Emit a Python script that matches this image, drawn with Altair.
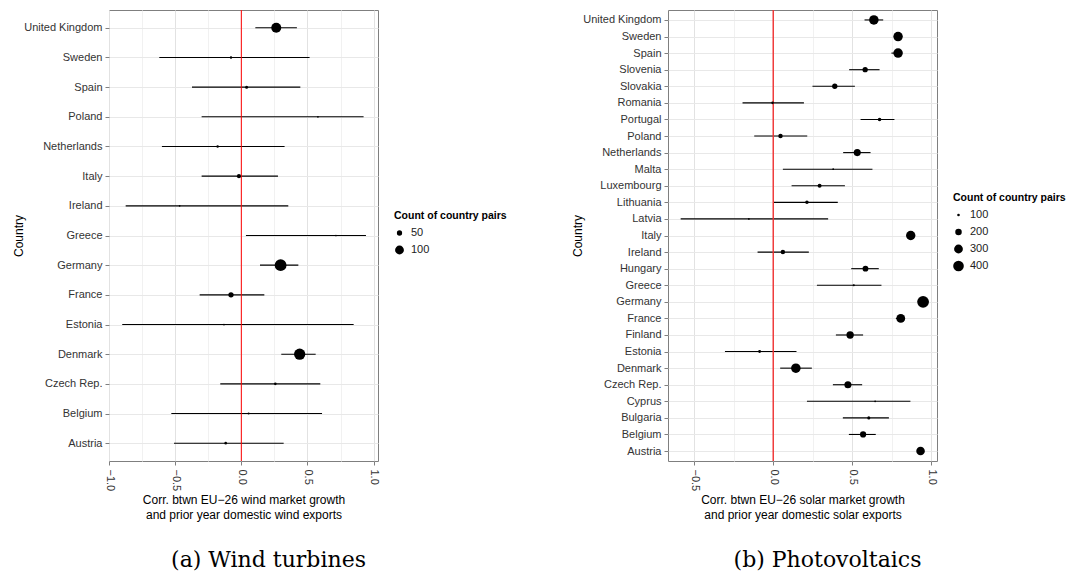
import altair as alt
import pandas as pd

# ---------------- data ----------------
wind_countries = ["United Kingdom", "Sweden", "Spain", "Poland", "Netherlands", "Italy",
                  "Ireland", "Greece", "Germany", "France", "Estonia", "Denmark",
                  "Czech Rep.", "Belgium", "Austria"]
wind_corr = [0.264, -0.078, 0.040, 0.579, -0.179, -0.018, -0.466, 0.715, 0.297, -0.078,
             -0.131, 0.441, 0.257, 0.055, -0.118]
wind_lo = [0.106, -0.620, -0.373, -0.300, -0.600, -0.300, -0.874, 0.035, 0.141, -0.315,
           -0.900, 0.302, -0.159, -0.529, -0.509]
wind_hi = [0.420, 0.516, 0.446, 0.924, 0.327, 0.277, 0.355, 0.942, 0.431, 0.174,
           0.849, 0.562, 0.597, 0.610, 0.320]
wind_pairs = [122, 28, 31, 25, 28, 39, 25, 25, 161, 50, 25, 149, 29, 26, 29]

solar_countries = ["United Kingdom", "Sweden", "Spain", "Slovenia", "Slovakia", "Romania",
                   "Portugal", "Poland", "Netherlands", "Malta", "Luxembourg", "Lithuania",
                   "Latvia", "Italy", "Ireland", "Hungary", "Greece", "Germany", "France",
                   "Finland", "Estonia", "Denmark", "Czech Rep.", "Cyprus", "Bulgaria",
                   "Belgium", "Austria"]
solar_corr = [0.636, 0.789, 0.789, 0.581, 0.389, -0.004, 0.672, 0.046, 0.531, 0.379, 0.293,
              0.213, -0.154, 0.869, 0.061, 0.583, 0.509, 0.947, 0.806, 0.486, -0.086, 0.143,
              0.472, 0.644, 0.604, 0.568, 0.931]
solar_lo = [0.577, 0.765, 0.747, 0.480, 0.248, -0.194, 0.552, -0.120, 0.442, 0.061, 0.116,
            0.004, -0.585, 0.850, -0.099, 0.493, 0.276, 0.930, 0.775, 0.396, -0.305, 0.044,
            0.377, 0.213, 0.440, 0.478, 0.915]
solar_hi = [0.695, 0.812, 0.815, 0.672, 0.516, 0.194, 0.766, 0.215, 0.615, 0.627, 0.453,
            0.408, 0.347, 0.885, 0.225, 0.667, 0.684, 0.962, 0.830, 0.568, 0.147, 0.244,
            0.562, 0.867, 0.731, 0.648, 0.945]
solar_pairs = [335, 335, 335, 160, 160, 100, 116, 136, 222, 89, 125, 116, 89, 330, 136, 174,
               94, 474, 302, 233, 104, 335, 222, 89, 107, 189, 290]

wind_ticks = [-1.0, -0.75, -0.5, -0.25, 0.0, 0.25, 0.5, 0.75, 1.0]
solar_ticks = [-0.5, -0.25, 0.0, 0.25, 0.5, 0.75, 1.0]
wind_legend = [50, 100]
solar_legend = [100, 200, 300, 400]

FONT = "Liberation Sans"
W, H = 269, 451


def panel(countries, corr, lo, hi, pairs, xdom, xticks, xtitle, size_dom, size_rng,
          legend_vals, legend_y, caption, zero_color, zero_w):
    df = pd.DataFrame({"country": countries, "corr": corr, "lo": lo, "hi": hi,
                       "pairs": pairs})
    minor = "datum.value % 0.5 !== 0"
    x_axis = alt.Axis(
        values=xticks,
        labelExpr="datum.value % 0.5 === 0 ? format(datum.value, '.1f') : ''",
        labelAngle=90, labelFontSize=11, labelColor="#333333", labelFont=FONT,
        labelPadding=4, tickSize=4,
        tickColor={"condition": {"test": minor, "value": "rgba(0,0,0,0)"}, "value": "#7f7f7f"},
        gridColor={"condition": {"test": minor, "value": "#f1f1f1"}, "value": "#e2e2e2"},
        domain=False, title=xtitle, titleFont=FONT, titleFontSize=12,
        titleFontWeight="normal", titleColor="black", titlePadding=4, titleLineHeight=15,
    )
    xscale = alt.Scale(domain=xdom, nice=False, zero=False)
    y_axis = alt.Axis(
        labelFontSize=11, labelColor="#333333", labelFont=FONT, labelPadding=3,
        tickSize=4, tickColor="#7f7f7f", domain=False, grid=True, gridColor="#e8e8e8",
        minExtent=83, maxExtent=83,
        title="Country", titleFont=FONT, titleFontSize=12, titleFontWeight="normal",
        titleColor="black", titlePadding=1,
    )
    yenc = alt.Y("country:N", sort=countries,
                 scale=alt.Scale(type="point", padding=0.6), axis=y_axis)

    bars = alt.Chart(df).mark_rule(color="black", strokeWidth=1.1).encode(
        x=alt.X("lo:Q", scale=xscale, axis=x_axis), x2="hi:Q", y=yenc)
    dots = alt.Chart(df).mark_circle(color="black", opacity=1).encode(
        x=alt.X("corr:Q", scale=xscale, axis=x_axis), y=yenc,
        size=alt.Size("pairs:Q",
                      scale=alt.Scale(domain=size_dom, range=size_rng, zero=False),
                      legend=alt.Legend(
                          title="Count of country pairs", orient="none",
                          legendX=W + 16, legendY=legend_y, values=legend_vals,
                          titleFont=FONT, titleFontSize=10.5, titleFontWeight="bold",
                          titleColor="black", labelFont=FONT, labelFontSize=11,
                          labelColor="#222222", symbolFillColor="black",
                          symbolStrokeWidth=0, rowPadding=5, labelOffset=6,
                          titlePadding=6, padding=0)))
    zero = alt.Chart(pd.DataFrame({"z": [0.0]})).mark_rule(
        color=zero_color, strokeWidth=zero_w).encode(
        x=alt.X("z:Q", scale=xscale, axis=x_axis))

    return alt.layer(bars, zero, dots).properties(
        width=W, height=H,
        title=alt.TitleParams(text=caption, orient="bottom", anchor="middle",
                              frame="group", dx=25, offset=29, font="DejaVu Serif",
                              fontSize=22, fontWeight="normal", color="black"))


left = panel(wind_countries, wind_corr, wind_lo, wind_hi, wind_pairs, [-1.0, 1.033],
             wind_ticks,
             ["Corr. btwn EU\u221226 wind market growth",
              "and prior year domestic wind exports"],
             [22, 180], [0, 158], wind_legend, 201, "(a) Wind turbines", "#ff0000", 1)
right = panel(solar_countries, solar_corr, solar_lo, solar_hi, solar_pairs, [-0.665, 1.035],
              solar_ticks,
              ["Corr. btwn EU\u221226 solar market growth",
               "and prior year domestic solar exports"],
              [80, 480], [0, 141], solar_legend, 183, "(b) Photovoltaics", "#f03030", 1.4)

chart = alt.hconcat(left, right, spacing=62).resolve_scale(
    x="independent", y="independent", size="independent"
).properties(
    padding={"left": 11, "top": 8, "right": 0, "bottom": 0}
).configure_view(stroke="#7f7f7f", strokeWidth=1)

chart.save("out.html", embed_options={"renderer": "svg", "actions": False})
